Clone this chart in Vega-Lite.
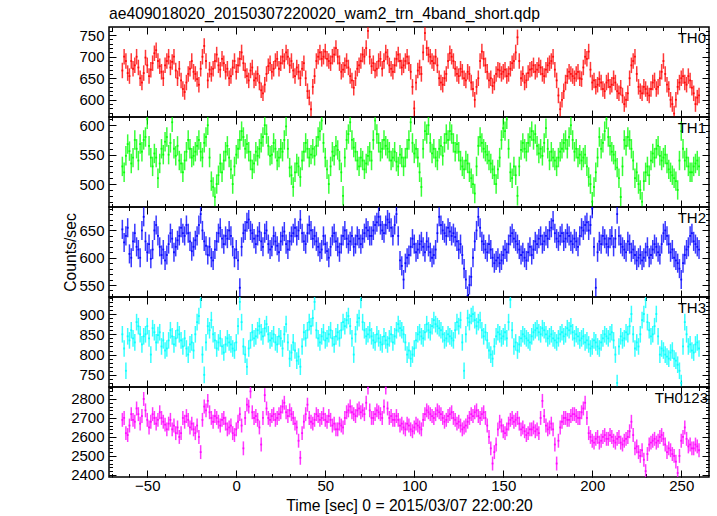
{
"$schema":"https://vega.github.io/schema/vega-lite/v6.json",
"padding":{"left":62,"top":5,"right":5,"bottom":5},
"title":{"text":"ae409018020_20150307220020_wam2_trn_4band_short.qdp","anchor":"start","frame":"group","fontSize":15.7,"fontWeight":"normal","font":"Liberation Sans","color":"black","offset":3},
"datasets":{
"err":[{"k":"a","err":18},{"k":"b","err":16.5},{"k":"c","err":17.5},{"k":"d","err":20.5},{"k":"s","err":36.6}],
"lc":[
{"t":-64,"a":668,"b":530,"c":652,"d":850,"s":2690},
{"t":-62,"a":690,"b":548,"c":640,"d":760,"s":2620},
{"t":-60,"a":655,"b":556,"c":607,"d":835,"s":2660},
{"t":-58,"a":672,"b":545,"c":630,"d":840,"s":2690},
{"t":-56,"a":700,"b":560,"c":620,"d":880,"s":2750},
{"t":-54,"a":650,"b":568,"c":600,"d":850,"s":2670},
{"t":-52,"a":662,"b":575,"c":675,"d":845,"s":2800},
{"t":-50,"a":680,"b":610,"c":610,"d":870,"s":2690},
{"t":-48,"a":670,"b":545,"c":598,"d":800,"s":2680},
{"t":-46,"a":708,"b":552,"c":650,"d":855,"s":2700},
{"t":-44,"a":690,"b":510,"c":640,"d":848,"s":2690},
{"t":-42,"a":665,"b":560,"c":605,"d":820,"s":2700},
{"t":-40,"a":680,"b":572,"c":595,"d":810,"s":2665},
{"t":-38,"a":700,"b":550,"c":625,"d":835,"s":2670},
{"t":-36,"a":688,"b":605,"c":635,"d":845,"s":2640},
{"t":-34,"a":668,"b":548,"c":620,"d":840,"s":2620},
{"t":-32,"a":672,"b":540,"c":640,"d":850,"s":2600},
{"t":-30,"a":625,"b":520,"c":645,"d":820,"s":2700},
{"t":-28,"a":640,"b":555,"c":660,"d":815,"s":2710},
{"t":-26,"a":672,"b":560,"c":630,"d":825,"s":2650},
{"t":-24,"a":665,"b":548,"c":620,"d":810,"s":2640},
{"t":-22,"a":648,"b":565,"c":640,"d":880,"s":2660},
{"t":-20,"a":672,"b":555,"c":680,"d":935,"s":2520},
{"t":-18,"a":725,"b":570,"c":630,"d":750,"s":2760},
{"t":-16,"a":645,"b":600,"c":605,"d":870,"s":2790},
{"t":-14,"a":660,"b":505,"c":600,"d":885,"s":2700},
{"t":-12,"a":690,"b":478,"c":615,"d":835,"s":2710},
{"t":-10,"a":680,"b":515,"c":645,"d":830,"s":2680},
{"t":-8,"a":695,"b":520,"c":635,"d":820,"s":2690},
{"t":-6,"a":665,"b":555,"c":640,"d":825,"s":2670},
{"t":-4,"a":650,"b":545,"c":650,"d":830,"s":2650},
{"t":-2,"a":675,"b":500,"c":620,"d":815,"s":2620},
{"t":0,"a":665,"b":550,"c":615,"d":830,"s":2640},
{"t":2,"a":695,"b":575,"c":545,"d":930,"s":2720},
{"t":4,"a":685,"b":580,"c":645,"d":820,"s":2540},
{"t":6,"a":655,"b":568,"c":665,"d":770,"s":2770},
{"t":8,"a":668,"b":540,"c":650,"d":835,"s":2840},
{"t":10,"a":645,"b":535,"c":635,"d":840,"s":2700},
{"t":12,"a":660,"b":548,"c":640,"d":860,"s":2690},
{"t":14,"a":622,"b":570,"c":630,"d":855,"s":2560},
{"t":16,"a":635,"b":600,"c":645,"d":865,"s":2820},
{"t":18,"a":678,"b":565,"c":625,"d":850,"s":2700},
{"t":20,"a":665,"b":550,"c":620,"d":840,"s":2710},
{"t":22,"a":690,"b":560,"c":630,"d":830,"s":2690},
{"t":24,"a":672,"b":545,"c":610,"d":845,"s":2720},
{"t":26,"a":700,"b":555,"c":640,"d":815,"s":2760},
{"t":28,"a":710,"b":598,"c":625,"d":875,"s":2730},
{"t":30,"a":680,"b":528,"c":630,"d":790,"s":2740},
{"t":32,"a":668,"b":495,"c":645,"d":830,"s":2700},
{"t":34,"a":675,"b":535,"c":640,"d":785,"s":2650},
{"t":36,"a":650,"b":512,"c":670,"d":770,"s":2490},
{"t":38,"a":685,"b":555,"c":630,"d":855,"s":2680},
{"t":40,"a":620,"b":560,"c":645,"d":860,"s":2770},
{"t":42,"a":578,"b":550,"c":650,"d":870,"s":2680},
{"t":44,"a":655,"b":548,"c":640,"d":930,"s":2690},
{"t":46,"a":700,"b":580,"c":620,"d":840,"s":2710},
{"t":48,"a":695,"b":608,"c":615,"d":845,"s":2700},
{"t":50,"a":712,"b":545,"c":625,"d":835,"s":2690},
{"t":52,"a":690,"b":500,"c":600,"d":850,"s":2710},
{"t":54,"a":700,"b":555,"c":640,"d":840,"s":2660},
{"t":56,"a":720,"b":565,"c":630,"d":845,"s":2640},
{"t":58,"a":685,"b":540,"c":610,"d":840,"s":2670},
{"t":60,"a":670,"b":480,"c":640,"d":880,"s":2650},
{"t":62,"a":690,"b":575,"c":635,"d":885,"s":2730},
{"t":64,"a":655,"b":605,"c":630,"d":870,"s":2760},
{"t":66,"a":628,"b":562,"c":620,"d":800,"s":2720},
{"t":68,"a":672,"b":540,"c":640,"d":880,"s":2740},
{"t":70,"a":690,"b":545,"c":625,"d":935,"s":2730},
{"t":72,"a":700,"b":525,"c":645,"d":860,"s":2720},
{"t":74,"a":760,"b":548,"c":650,"d":850,"s":2860},
{"t":76,"a":678,"b":540,"c":640,"d":845,"s":2700},
{"t":78,"a":668,"b":608,"c":660,"d":830,"s":2720},
{"t":80,"a":690,"b":570,"c":675,"d":840,"s":2730},
{"t":82,"a":672,"b":560,"c":650,"d":825,"s":2700},
{"t":84,"a":710,"b":565,"c":660,"d":835,"s":2860},
{"t":86,"a":680,"b":555,"c":665,"d":840,"s":2700},
{"t":88,"a":665,"b":545,"c":640,"d":830,"s":2690},
{"t":90,"a":695,"b":538,"c":680,"d":860,"s":2710},
{"t":92,"a":690,"b":550,"c":595,"d":865,"s":2660},
{"t":94,"a":680,"b":530,"c":560,"d":850,"s":2650},
{"t":96,"a":700,"b":560,"c":600,"d":800,"s":2670},
{"t":98,"a":665,"b":605,"c":620,"d":790,"s":2640},
{"t":100,"a":580,"b":552,"c":625,"d":815,"s":2650},
{"t":102,"a":668,"b":545,"c":615,"d":850,"s":2660},
{"t":104,"a":660,"b":495,"c":630,"d":845,"s":2640},
{"t":106,"a":755,"b":590,"c":610,"d":855,"s":2720},
{"t":108,"a":705,"b":600,"c":620,"d":860,"s":2730},
{"t":110,"a":690,"b":552,"c":600,"d":870,"s":2710},
{"t":112,"a":700,"b":545,"c":615,"d":875,"s":2720},
{"t":114,"a":650,"b":560,"c":675,"d":865,"s":2730},
{"t":116,"a":635,"b":548,"c":650,"d":850,"s":2700},
{"t":118,"a":660,"b":585,"c":640,"d":840,"s":2690},
{"t":120,"a":708,"b":590,"c":648,"d":845,"s":2720},
{"t":122,"a":690,"b":570,"c":645,"d":835,"s":2700},
{"t":124,"a":660,"b":568,"c":630,"d":880,"s":2670},
{"t":126,"a":672,"b":540,"c":625,"d":885,"s":2660},
{"t":128,"a":650,"b":525,"c":580,"d":760,"s":2650},
{"t":130,"a":665,"b":535,"c":530,"d":890,"s":2680},
{"t":132,"a":640,"b":510,"c":565,"d":895,"s":2720},
{"t":134,"a":600,"b":484,"c":630,"d":885,"s":2730},
{"t":136,"a":650,"b":565,"c":675,"d":880,"s":2710},
{"t":138,"a":712,"b":570,"c":630,"d":860,"s":2720},
{"t":140,"a":680,"b":555,"c":615,"d":855,"s":2700},
{"t":142,"a":645,"b":540,"c":625,"d":810,"s":2600},
{"t":144,"a":632,"b":525,"c":600,"d":790,"s":2460},
{"t":146,"a":660,"b":500,"c":595,"d":845,"s":2560},
{"t":148,"a":668,"b":545,"c":590,"d":850,"s":2680},
{"t":150,"a":665,"b":595,"c":605,"d":845,"s":2630},
{"t":152,"a":655,"b":610,"c":610,"d":840,"s":2640},
{"t":154,"a":672,"b":520,"c":640,"d":935,"s":2690},
{"t":156,"a":690,"b":530,"c":635,"d":820,"s":2680},
{"t":158,"a":745,"b":480,"c":625,"d":810,"s":2700},
{"t":160,"a":650,"b":558,"c":605,"d":840,"s":2640},
{"t":162,"a":640,"b":560,"c":600,"d":845,"s":2630},
{"t":164,"a":662,"b":570,"c":610,"d":835,"s":2620},
{"t":166,"a":672,"b":590,"c":605,"d":845,"s":2640},
{"t":168,"a":665,"b":585,"c":630,"d":860,"s":2630},
{"t":170,"a":680,"b":552,"c":635,"d":855,"s":2620},
{"t":172,"a":660,"b":548,"c":625,"d":865,"s":2790},
{"t":174,"a":670,"b":595,"c":640,"d":850,"s":2660},
{"t":176,"a":685,"b":540,"c":650,"d":845,"s":2650},
{"t":178,"a":700,"b":545,"c":668,"d":840,"s":2640},
{"t":180,"a":645,"b":530,"c":635,"d":830,"s":2460},
{"t":182,"a":578,"b":555,"c":640,"d":850,"s":2650},
{"t":184,"a":620,"b":570,"c":630,"d":845,"s":2700},
{"t":186,"a":655,"b":560,"c":645,"d":865,"s":2690},
{"t":188,"a":660,"b":600,"c":630,"d":870,"s":2710},
{"t":190,"a":650,"b":555,"c":635,"d":840,"s":2720},
{"t":192,"a":665,"b":545,"c":620,"d":845,"s":2700},
{"t":194,"a":648,"b":540,"c":655,"d":840,"s":2730},
{"t":196,"a":700,"b":550,"c":660,"d":830,"s":2780},
{"t":198,"a":712,"b":512,"c":650,"d":825,"s":2620},
{"t":200,"a":640,"b":470,"c":690,"d":820,"s":2580},
{"t":202,"a":630,"b":520,"c":545,"d":830,"s":2590},
{"t":204,"a":648,"b":580,"c":630,"d":815,"s":2570},
{"t":206,"a":625,"b":570,"c":640,"d":840,"s":2600},
{"t":208,"a":640,"b":610,"c":625,"d":845,"s":2590},
{"t":210,"a":630,"b":565,"c":635,"d":850,"s":2610},
{"t":212,"a":650,"b":550,"c":620,"d":835,"s":2580},
{"t":214,"a":620,"b":528,"c":680,"d":730,"s":2590},
{"t":216,"a":628,"b":478,"c":625,"d":845,"s":2570},
{"t":218,"a":590,"b":575,"c":615,"d":840,"s":2580},
{"t":220,"a":615,"b":580,"c":630,"d":850,"s":2600},
{"t":222,"a":680,"b":560,"c":610,"d":900,"s":2680},
{"t":224,"a":700,"b":510,"c":605,"d":815,"s":2540},
{"t":226,"a":630,"b":500,"c":600,"d":820,"s":2520},
{"t":228,"a":615,"b":470,"c":595,"d":885,"s":2530},
{"t":230,"a":625,"b":520,"c":610,"d":935,"s":2420},
{"t":232,"a":610,"b":515,"c":600,"d":860,"s":2560},
{"t":234,"a":640,"b":552,"c":615,"d":850,"s":2580},
{"t":236,"a":625,"b":560,"c":620,"d":900,"s":2570},
{"t":238,"a":650,"b":548,"c":605,"d":800,"s":2600},
{"t":240,"a":690,"b":545,"c":645,"d":810,"s":2590},
{"t":242,"a":635,"b":535,"c":640,"d":795,"s":2520},
{"t":244,"a":600,"b":520,"c":610,"d":805,"s":2530},
{"t":246,"a":568,"b":510,"c":600,"d":790,"s":2500},
{"t":248,"a":630,"b":490,"c":590,"d":775,"s":2410},
{"t":250,"a":650,"b":590,"c":560,"d":730,"s":2580},
{"t":252,"a":640,"b":540,"c":605,"d":880,"s":2650},
{"t":254,"a":655,"b":530,"c":620,"d":820,"s":2550},
{"t":256,"a":628,"b":520,"c":645,"d":810,"s":2540},
{"t":258,"a":590,"b":535,"c":625,"d":825,"s":2560},
{"t":260,"a":610,"b":530,"c":615,"d":815,"s":2530},
{"t":-63,"a":700,"b":520,"c":628,"d":815,"s":2700},
{"t":-61,"a":662,"b":568,"c":655,"d":845,"s":2610},
{"t":-59,"a":690,"b":535,"c":600,"d":860,"s":2720},
{"t":-57,"a":680,"b":575,"c":645,"d":830,"s":2680},
{"t":-55,"a":675,"b":540,"c":615,"d":870,"s":2720},
{"t":-53,"a":640,"b":555,"c":650,"d":825,"s":2710},
{"t":-51,"a":698,"b":580,"c":630,"d":850,"s":2740},
{"t":-49,"a":655,"b":565,"c":625,"d":840,"s":2650},
{"t":-47,"a":685,"b":530,"c":615,"d":865,"s":2720},
{"t":-45,"a":715,"b":545,"c":660,"d":830,"s":2670},
{"t":-43,"a":678,"b":535,"c":620,"d":855,"s":2730},
{"t":-41,"a":650,"b":550,"c":615,"d":835,"s":2680},
{"t":-39,"a":690,"b":580,"c":605,"d":815,"s":2640},
{"t":-37,"a":675,"b":570,"c":645,"d":860,"s":2690},
{"t":-35,"a":700,"b":560,"c":610,"d":825,"s":2660},
{"t":-33,"a":650,"b":565,"c":632,"d":860,"s":2650},
{"t":-31,"a":645,"b":535,"c":655,"d":835,"s":2620},
{"t":-29,"a":618,"b":540,"c":640,"d":840,"s":2680},
{"t":-27,"a":660,"b":575,"c":645,"d":800,"s":2690},
{"t":-25,"a":690,"b":545,"c":612,"d":830,"s":2670},
{"t":-23,"a":660,"b":555,"c":632,"d":850,"s":2620},
{"t":-21,"a":635,"b":575,"c":660,"d":895,"s":2600},
{"t":-19,"a":700,"b":545,"c":650,"d":800,"s":2690},
{"t":-17,"a":690,"b":580,"c":622,"d":830,"s":2740},
{"t":-15,"a":670,"b":545,"c":620,"d":860,"s":2730},
{"t":-13,"a":672,"b":495,"c":595,"d":850,"s":2680},
{"t":-11,"a":705,"b":500,"c":630,"d":815,"s":2700},
{"t":-9,"a":670,"b":535,"c":655,"d":840,"s":2660},
{"t":-7,"a":685,"b":540,"c":625,"d":805,"s":2700},
{"t":-5,"a":672,"b":565,"c":635,"d":840,"s":2640},
{"t":-3,"a":655,"b":525,"c":640,"d":825,"s":2660},
{"t":-1,"a":690,"b":530,"c":600,"d":810,"s":2610},
{"t":1,"a":680,"b":560,"c":595,"d":870,"s":2680},
{"t":3,"a":710,"b":590,"c":620,"d":880,"s":2660},
{"t":5,"a":668,"b":560,"c":650,"d":800,"s":2700},
{"t":7,"a":645,"b":555,"c":670,"d":815,"s":2760},
{"t":9,"a":675,"b":525,"c":645,"d":855,"s":2730},
{"t":11,"a":650,"b":555,"c":625,"d":845,"s":2710},
{"t":13,"a":640,"b":560,"c":648,"d":870,"s":2650},
{"t":15,"a":615,"b":580,"c":620,"d":845,"s":2700},
{"t":17,"a":660,"b":585,"c":650,"d":875,"s":2750},
{"t":19,"a":685,"b":548,"c":615,"d":835,"s":2690},
{"t":21,"a":672,"b":570,"c":640,"d":850,"s":2720},
{"t":23,"a":695,"b":540,"c":622,"d":825,"s":2700},
{"t":25,"a":685,"b":560,"c":630,"d":840,"s":2730},
{"t":27,"a":690,"b":575,"c":648,"d":850,"s":2780},
{"t":29,"a":700,"b":560,"c":615,"d":830,"s":2710},
{"t":31,"a":690,"b":515,"c":640,"d":805,"s":2720},
{"t":33,"a":655,"b":520,"c":655,"d":810,"s":2670},
{"t":35,"a":665,"b":530,"c":650,"d":795,"s":2580},
{"t":37,"a":672,"b":540,"c":645,"d":820,"s":2620},
{"t":39,"a":650,"b":570,"c":625,"d":840,"s":2720},
{"t":41,"a":605,"b":545,"c":660,"d":880,"s":2700},
{"t":43,"a":630,"b":560,"c":635,"d":890,"s":2670},
{"t":45,"a":690,"b":565,"c":630,"d":860,"s":2720},
{"t":47,"a":710,"b":590,"c":610,"d":830,"s":2690},
{"t":49,"a":700,"b":570,"c":640,"d":855,"s":2720},
{"t":51,"a":695,"b":525,"c":612,"d":840,"s":2680},
{"t":53,"a":685,"b":530,"c":620,"d":860,"s":2690},
{"t":55,"a":705,"b":548,"c":645,"d":825,"s":2670},
{"t":57,"a":700,"b":558,"c":620,"d":855,"s":2640},
{"t":59,"a":665,"b":520,"c":625,"d":860,"s":2660},
{"t":61,"a":680,"b":545,"c":650,"d":870,"s":2700},
{"t":63,"a":675,"b":585,"c":625,"d":895,"s":2740},
{"t":65,"a":645,"b":575,"c":640,"d":840,"s":2730},
{"t":67,"a":650,"b":555,"c":625,"d":850,"s":2710},
{"t":69,"a":680,"b":530,"c":635,"d":890,"s":2750},
{"t":71,"a":705,"b":540,"c":635,"d":880,"s":2740},
{"t":73,"a":720,"b":535,"c":655,"d":845,"s":2780},
{"t":75,"a":700,"b":555,"c":640,"d":860,"s":2740},
{"t":77,"a":685,"b":575,"c":650,"d":835,"s":2700},
{"t":79,"a":672,"b":585,"c":665,"d":850,"s":2740},
{"t":81,"a":695,"b":555,"c":660,"d":830,"s":2720},
{"t":83,"a":690,"b":575,"c":645,"d":845,"s":2760},
{"t":85,"a":700,"b":560,"c":670,"d":825,"s":2750},
{"t":87,"a":672,"b":540,"c":655,"d":850,"s":2710},
{"t":89,"a":680,"b":555,"c":660,"d":845,"s":2690},
{"t":91,"a":705,"b":530,"c":640,"d":875,"s":2690},
{"t":93,"a":675,"b":545,"c":585,"d":860,"s":2670},
{"t":95,"a":690,"b":545,"c":590,"d":830,"s":2640},
{"t":97,"a":685,"b":575,"c":605,"d":810,"s":2660},
{"t":99,"a":630,"b":570,"c":635,"d":800,"s":2630},
{"t":101,"a":640,"b":560,"c":610,"d":835,"s":2670},
{"t":103,"a":675,"b":520,"c":625,"d":855,"s":2650},
{"t":105,"a":710,"b":560,"c":620,"d":840,"s":2690},
{"t":107,"a":720,"b":585,"c":630,"d":875,"s":2740},
{"t":109,"a":700,"b":570,"c":610,"d":855,"s":2720},
{"t":111,"a":685,"b":560,"c":605,"d":885,"s":2700},
{"t":113,"a":680,"b":540,"c":645,"d":870,"s":2740},
{"t":115,"a":640,"b":565,"c":660,"d":860,"s":2720},
{"t":117,"a":650,"b":570,"c":645,"d":835,"s":2680},
{"t":119,"a":690,"b":575,"c":655,"d":850,"s":2710},
{"t":121,"a":700,"b":585,"c":640,"d":840,"s":2730},
{"t":123,"a":672,"b":555,"c":638,"d":860,"s":2690},
{"t":125,"a":655,"b":555,"c":615,"d":870,"s":2680},
{"t":127,"a":665,"b":530,"c":605,"d":830,"s":2640},
{"t":129,"a":645,"b":540,"c":560,"d":850,"s":2660},
{"t":131,"a":660,"b":520,"c":550,"d":880,"s":2700},
{"t":133,"a":625,"b":500,"c":600,"d":900,"s":2710},
{"t":135,"a":630,"b":530,"c":650,"d":870,"s":2740},
{"t":137,"a":690,"b":580,"c":655,"d":885,"s":2700},
{"t":139,"a":695,"b":560,"c":625,"d":845,"s":2730},
{"t":141,"a":665,"b":550,"c":610,"d":835,"s":2660},
{"t":143,"a":650,"b":535,"c":615,"d":800,"s":2540},
{"t":145,"a":640,"b":515,"c":590,"d":820,"s":2520},
{"t":147,"a":670,"b":525,"c":600,"d":855,"s":2640},
{"t":149,"a":660,"b":575,"c":595,"d":840,"s":2660},
{"t":151,"a":670,"b":590,"c":615,"d":855,"s":2620},
{"t":153,"a":660,"b":560,"c":625,"d":880,"s":2670},
{"t":155,"a":685,"b":510,"c":645,"d":860,"s":2700},
{"t":157,"a":710,"b":515,"c":630,"d":830,"s":2690},
{"t":159,"a":690,"b":530,"c":615,"d":825,"s":2670},
{"t":161,"a":660,"b":570,"c":610,"d":850,"s":2650},
{"t":163,"a":645,"b":555,"c":595,"d":840,"s":2610},
{"t":165,"a":670,"b":580,"c":620,"d":830,"s":2640},
{"t":167,"a":680,"b":575,"c":615,"d":855,"s":2650},
{"t":169,"a":670,"b":565,"c":625,"d":865,"s":2640},
{"t":171,"a":675,"b":560,"c":640,"d":850,"s":2700},
{"t":173,"a":655,"b":570,"c":630,"d":860,"s":2710},
{"t":175,"a":680,"b":560,"c":635,"d":840,"s":2640},
{"t":177,"a":690,"b":555,"c":655,"d":850,"s":2670},
{"t":179,"a":670,"b":540,"c":645,"d":835,"s":2560},
{"t":181,"a":610,"b":545,"c":630,"d":840,"s":2580},
{"t":183,"a":600,"b":560,"c":645,"d":855,"s":2680},
{"t":185,"a":640,"b":575,"c":635,"d":850,"s":2700},
{"t":187,"a":665,"b":580,"c":640,"d":860,"s":2690},
{"t":189,"a":655,"b":575,"c":625,"d":855,"s":2720},
{"t":191,"a":660,"b":560,"c":630,"d":850,"s":2710},
{"t":193,"a":650,"b":550,"c":640,"d":835,"s":2700},
{"t":195,"a":675,"b":545,"c":650,"d":845,"s":2750},
{"t":197,"a":695,"b":530,"c":665,"d":835,"s":2700},
{"t":199,"a":670,"b":500,"c":660,"d":815,"s":2600},
{"t":201,"a":645,"b":495,"c":620,"d":835,"s":2570},
{"t":203,"a":635,"b":545,"c":610,"d":820,"s":2600},
{"t":205,"a":640,"b":560,"c":625,"d":830,"s":2580},
{"t":207,"a":620,"b":590,"c":635,"d":850,"s":2610},
{"t":209,"a":645,"b":580,"c":620,"d":840,"s":2590},
{"t":211,"a":635,"b":555,"c":640,"d":855,"s":2600},
{"t":213,"a":640,"b":540,"c":635,"d":800,"s":2570},
{"t":215,"a":615,"b":510,"c":640,"d":820,"s":2600},
{"t":217,"a":610,"b":530,"c":620,"d":835,"s":2560},
{"t":219,"a":600,"b":565,"c":610,"d":855,"s":2590},
{"t":221,"a":650,"b":575,"c":625,"d":870,"s":2630},
{"t":223,"a":690,"b":540,"c":615,"d":850,"s":2610},
{"t":225,"a":660,"b":520,"c":595,"d":830,"s":2550},
{"t":227,"a":620,"b":490,"c":605,"d":850,"s":2500},
{"t":229,"a":630,"b":505,"c":600,"d":900,"s":2480},
{"t":231,"a":615,"b":530,"c":620,"d":880,"s":2510},
{"t":233,"a":625,"b":540,"c":605,"d":845,"s":2570},
{"t":235,"a":645,"b":545,"c":625,"d":870,"s":2590},
{"t":237,"a":630,"b":565,"c":610,"d":845,"s":2580},
{"t":239,"a":665,"b":540,"c":625,"d":815,"s":2610},
{"t":241,"a":660,"b":550,"c":650,"d":800,"s":2560},
{"t":243,"a":625,"b":525,"c":625,"d":790,"s":2540},
{"t":245,"a":590,"b":515,"c":615,"d":810,"s":2510},
{"t":247,"a":600,"b":505,"c":595,"d":785,"s":2470},
{"t":249,"a":640,"b":540,"c":580,"d":760,"s":2500},
{"t":251,"a":655,"b":560,"c":590,"d":820,"s":2600},
{"t":253,"a":635,"b":545,"c":615,"d":850,"s":2590},
{"t":255,"a":645,"b":520,"c":640,"d":825,"s":2560},
{"t":257,"a":615,"b":530,"c":630,"d":805,"s":2540},
{"t":259,"a":605,"b":540,"c":620,"d":830,"s":2550}
]},
"data":{"name":"lc"},
"spacing":0,
"bounds":"flush",
"vconcat":[
{"width":600,"height":90,
"transform":[{"fold":["a"],"as":["k","v"]},{"lookup":"k","from":{"data":{"name":"err"},"key":"k","fields":["err"]}}],
"layer":[
{"mark":{"type":"errorbar","color":"#ff0000","thickness":1.5,"opacity":0.78},
"encoding":{"x":{"field":"t","type":"quantitative","scale":{"domain":[-71.5,265.6],"nice":false,"zero":false},"axis":{"orient":"bottom","values":[-50,0,50,100,150,200,250],"tickSize":-7,"labels":false,"title":null}},
"y":{"field":"v","type":"quantitative","scale":{"domain":[560,769],"nice":false,"zero":false,"clamp":true},"axis":{"orient":"left","values":[600,650,700,750],"tickSize":-7,"labels":false,"title":null,"minExtent":0}},
"yError":{"field":"err"}}},
{"mark":{"type":"tick","orient":"horizontal","size":1.9,"thickness":1.8,"color":"#ff0000","opacity":0.85},
"encoding":{"x":{"field":"t","type":"quantitative","axis":{"orient":"top","values":[-50,0,50,100,150,200,250],"tickSize":-7,"labels":false,"title":null}},
"y":{"field":"v","type":"quantitative","axis":{"orient":"right","values":[600,650,700,750],"tickSize":-7,"labels":false,"title":null,"minExtent":0}}}},
{"mark":{"type":"point","opacity":0},
"encoding":{"x":{"field":"t","type":"quantitative","axis":{"orient":"bottom","values":[-70,-60,-50,-40,-30,-20,-10,0,10,20,30,40,50,60,70,80,90,100,110,120,130,140,150,160,170,180,190,200,210,220,230,240,250,260],"tickSize":-3.5,"labels":false,"title":null}},
"y":{"field":"v","type":"quantitative","axis":{"orient":"left","values":[560,570,580,590,600,610,620,630,640,650,660,670,680,690,700,710,720,730,740,750,760],"tickSize":-3.5,"labels":false,"title":null,"minExtent":0}}}},
{"mark":{"type":"point","opacity":0},
"encoding":{"x":{"field":"t","type":"quantitative","axis":{"orient":"top","values":[-70,-60,-50,-40,-30,-20,-10,0,10,20,30,40,50,60,70,80,90,100,110,120,130,140,150,160,170,180,190,200,210,220,230,240,250,260],"tickSize":-3.5,"labels":false,"title":null}},
"y":{"field":"v","type":"quantitative","axis":{"orient":"right","values":[560,570,580,590,600,610,620,630,640,650,660,670,680,690,700,710,720,730,740,750,760],"tickSize":-3.5,"labels":false,"title":null,"minExtent":0}}}},
{"mark":{"type":"point","opacity":0},
"encoding":{"x":{"field":"t","type":"quantitative","axis":null},
"y":{"field":"v","type":"quantitative","axis":{"orient":"left","values":[600,650,700,750],"format":"d","ticks":false,"labelPadding":5,"labelOverlap":false,"title":null,"minExtent":0}}}},
{"data":{"values":[{"n":"TH0"}]},"mark":{"type":"text","align":"right","baseline":"top","dx":-3,"dy":4,"fontSize":15,"font":"Liberation Sans","color":"black"},
"encoding":{"x":{"datum":265.6,"type":"quantitative","axis":null},"y":{"datum":769,"type":"quantitative","axis":null},"text":{"field":"n"}}}
],
"resolve":{"axis":{"x":"independent","y":"independent"}}},

{"width":600,"height":90,
"transform":[{"fold":["b"],"as":["k","v"]},{"lookup":"k","from":{"data":{"name":"err"},"key":"k","fields":["err"]}}],
"layer":[
{"mark":{"type":"errorbar","color":"#00ff00","thickness":1.5,"opacity":0.78},
"encoding":{"x":{"field":"t","type":"quantitative","scale":{"domain":[-71.5,265.6],"nice":false,"zero":false},"axis":{"orient":"bottom","values":[-50,0,50,100,150,200,250],"tickSize":-7,"labels":false,"title":null}},
"y":{"field":"v","type":"quantitative","scale":{"domain":[461,614],"nice":false,"zero":false,"clamp":true},"axis":{"orient":"left","values":[500,550,600],"tickSize":-7,"labels":false,"title":null,"minExtent":0}},
"yError":{"field":"err"}}},
{"mark":{"type":"tick","orient":"horizontal","size":1.9,"thickness":1.8,"color":"#00ff00","opacity":0.85},
"encoding":{"x":{"field":"t","type":"quantitative","axis":{"orient":"top","values":[-50,0,50,100,150,200,250],"tickSize":-7,"labels":false,"title":null}},
"y":{"field":"v","type":"quantitative","axis":{"orient":"right","values":[500,550,600],"tickSize":-7,"labels":false,"title":null,"minExtent":0}}}},
{"mark":{"type":"point","opacity":0},
"encoding":{"x":{"field":"t","type":"quantitative","axis":{"orient":"bottom","values":[-70,-60,-50,-40,-30,-20,-10,0,10,20,30,40,50,60,70,80,90,100,110,120,130,140,150,160,170,180,190,200,210,220,230,240,250,260],"tickSize":-3.5,"labels":false,"title":null}},
"y":{"field":"v","type":"quantitative","axis":{"orient":"left","values":[470,480,490,500,510,520,530,540,550,560,570,580,590,600,610],"tickSize":-3.5,"labels":false,"title":null,"minExtent":0}}}},
{"mark":{"type":"point","opacity":0},
"encoding":{"x":{"field":"t","type":"quantitative","axis":{"orient":"top","values":[-70,-60,-50,-40,-30,-20,-10,0,10,20,30,40,50,60,70,80,90,100,110,120,130,140,150,160,170,180,190,200,210,220,230,240,250,260],"tickSize":-3.5,"labels":false,"title":null}},
"y":{"field":"v","type":"quantitative","axis":{"orient":"right","values":[470,480,490,500,510,520,530,540,550,560,570,580,590,600,610],"tickSize":-3.5,"labels":false,"title":null,"minExtent":0}}}},
{"mark":{"type":"point","opacity":0},
"encoding":{"x":{"field":"t","type":"quantitative","axis":null},
"y":{"field":"v","type":"quantitative","axis":{"orient":"left","values":[500,550,600],"format":"d","ticks":false,"labelPadding":5,"labelOverlap":false,"title":null,"minExtent":0}}}},
{"data":{"values":[{"n":"TH1"}]},"mark":{"type":"text","align":"right","baseline":"top","dx":-3,"dy":4,"fontSize":15,"font":"Liberation Sans","color":"black"},
"encoding":{"x":{"datum":265.6,"type":"quantitative","axis":null},"y":{"datum":614,"type":"quantitative","axis":null},"text":{"field":"n"}}}
],
"resolve":{"axis":{"x":"independent","y":"independent"}}},

{"width":600,"height":90,
"transform":[{"fold":["c"],"as":["k","v"]},{"lookup":"k","from":{"data":{"name":"err"},"key":"k","fields":["err"]}}],
"layer":[
{"mark":{"type":"errorbar","color":"#0000ff","thickness":1.5,"opacity":0.78},
"encoding":{"x":{"field":"t","type":"quantitative","scale":{"domain":[-71.5,265.6],"nice":false,"zero":false},"axis":{"orient":"bottom","values":[-50,0,50,100,150,200,250],"tickSize":-7,"labels":false,"title":null}},
"y":{"field":"v","type":"quantitative","scale":{"domain":[528,693],"nice":false,"zero":false,"clamp":true},"axis":{"orient":"left","values":[550,600,650],"tickSize":-7,"labels":false,"title":null,"minExtent":0}},
"yError":{"field":"err"}}},
{"mark":{"type":"tick","orient":"horizontal","size":1.9,"thickness":1.8,"color":"#0000ff","opacity":0.85},
"encoding":{"x":{"field":"t","type":"quantitative","axis":{"orient":"top","values":[-50,0,50,100,150,200,250],"tickSize":-7,"labels":false,"title":null}},
"y":{"field":"v","type":"quantitative","axis":{"orient":"right","values":[550,600,650],"tickSize":-7,"labels":false,"title":null,"minExtent":0}}}},
{"mark":{"type":"point","opacity":0},
"encoding":{"x":{"field":"t","type":"quantitative","axis":{"orient":"bottom","values":[-70,-60,-50,-40,-30,-20,-10,0,10,20,30,40,50,60,70,80,90,100,110,120,130,140,150,160,170,180,190,200,210,220,230,240,250,260],"tickSize":-3.5,"labels":false,"title":null}},
"y":{"field":"v","type":"quantitative","axis":{"orient":"left","values":[530,540,550,560,570,580,590,600,610,620,630,640,650,660,670,680,690],"tickSize":-3.5,"labels":false,"title":null,"minExtent":0}}}},
{"mark":{"type":"point","opacity":0},
"encoding":{"x":{"field":"t","type":"quantitative","axis":{"orient":"top","values":[-70,-60,-50,-40,-30,-20,-10,0,10,20,30,40,50,60,70,80,90,100,110,120,130,140,150,160,170,180,190,200,210,220,230,240,250,260],"tickSize":-3.5,"labels":false,"title":null}},
"y":{"field":"v","type":"quantitative","axis":{"orient":"right","values":[530,540,550,560,570,580,590,600,610,620,630,640,650,660,670,680,690],"tickSize":-3.5,"labels":false,"title":null,"minExtent":0}}}},
{"mark":{"type":"point","opacity":0},
"encoding":{"x":{"field":"t","type":"quantitative","axis":null},
"y":{"field":"v","type":"quantitative","axis":{"orient":"left","values":[550,600,650],"format":"d","ticks":false,"labelPadding":5,"labelOverlap":false,"title":"Counts/sec","titlePadding":0,"minExtent":0}}}},
{"data":{"values":[{"n":"TH2"}]},"mark":{"type":"text","align":"right","baseline":"top","dx":-3,"dy":4,"fontSize":15,"font":"Liberation Sans","color":"black"},
"encoding":{"x":{"datum":265.6,"type":"quantitative","axis":null},"y":{"datum":693,"type":"quantitative","axis":null},"text":{"field":"n"}}}
],
"resolve":{"axis":{"x":"independent","y":"independent"}}},

{"width":600,"height":90,
"transform":[{"fold":["d"],"as":["k","v"]},{"lookup":"k","from":{"data":{"name":"err"},"key":"k","fields":["err"]}}],
"layer":[
{"mark":{"type":"errorbar","color":"#00ffff","thickness":1.5,"opacity":0.78},
"encoding":{"x":{"field":"t","type":"quantitative","scale":{"domain":[-71.5,265.6],"nice":false,"zero":false},"axis":{"orient":"bottom","values":[-50,0,50,100,150,200,250],"tickSize":-7,"labels":false,"title":null}},
"y":{"field":"v","type":"quantitative","scale":{"domain":[720,942],"nice":false,"zero":false,"clamp":true},"axis":{"orient":"left","values":[750,800,850,900],"tickSize":-7,"labels":false,"title":null,"minExtent":0}},
"yError":{"field":"err"}}},
{"mark":{"type":"tick","orient":"horizontal","size":1.9,"thickness":1.8,"color":"#00ffff","opacity":0.85},
"encoding":{"x":{"field":"t","type":"quantitative","axis":{"orient":"top","values":[-50,0,50,100,150,200,250],"tickSize":-7,"labels":false,"title":null}},
"y":{"field":"v","type":"quantitative","axis":{"orient":"right","values":[750,800,850,900],"tickSize":-7,"labels":false,"title":null,"minExtent":0}}}},
{"mark":{"type":"point","opacity":0},
"encoding":{"x":{"field":"t","type":"quantitative","axis":{"orient":"bottom","values":[-70,-60,-50,-40,-30,-20,-10,0,10,20,30,40,50,60,70,80,90,100,110,120,130,140,150,160,170,180,190,200,210,220,230,240,250,260],"tickSize":-3.5,"labels":false,"title":null}},
"y":{"field":"v","type":"quantitative","axis":{"orient":"left","values":[720,730,740,750,760,770,780,790,800,810,820,830,840,850,860,870,880,890,900,910,920,930,940],"tickSize":-3.5,"labels":false,"title":null,"minExtent":0}}}},
{"mark":{"type":"point","opacity":0},
"encoding":{"x":{"field":"t","type":"quantitative","axis":{"orient":"top","values":[-70,-60,-50,-40,-30,-20,-10,0,10,20,30,40,50,60,70,80,90,100,110,120,130,140,150,160,170,180,190,200,210,220,230,240,250,260],"tickSize":-3.5,"labels":false,"title":null}},
"y":{"field":"v","type":"quantitative","axis":{"orient":"right","values":[720,730,740,750,760,770,780,790,800,810,820,830,840,850,860,870,880,890,900,910,920,930,940],"tickSize":-3.5,"labels":false,"title":null,"minExtent":0}}}},
{"mark":{"type":"point","opacity":0},
"encoding":{"x":{"field":"t","type":"quantitative","axis":null},
"y":{"field":"v","type":"quantitative","axis":{"orient":"left","values":[750,800,850,900],"format":"d","ticks":false,"labelPadding":5,"labelOverlap":false,"title":null,"minExtent":0}}}},
{"data":{"values":[{"n":"TH3"}]},"mark":{"type":"text","align":"right","baseline":"top","dx":-3,"dy":4,"fontSize":15,"font":"Liberation Sans","color":"black"},
"encoding":{"x":{"datum":265.6,"type":"quantitative","axis":null},"y":{"datum":942,"type":"quantitative","axis":null},"text":{"field":"n"}}}
],
"resolve":{"axis":{"x":"independent","y":"independent"}}},

{"width":600,"height":90,
"transform":[{"fold":["s"],"as":["k","v"]},{"lookup":"k","from":{"data":{"name":"err"},"key":"k","fields":["err"]}}],
"layer":[
{"mark":{"type":"errorbar","color":"#ff00ff","thickness":1.5,"opacity":0.78},
"encoding":{"x":{"field":"t","type":"quantitative","scale":{"domain":[-71.5,265.6],"nice":false,"zero":false},"axis":{"orient":"bottom","values":[-50,0,50,100,150,200,250],"tickSize":-7,"labels":false,"title":null}},
"y":{"field":"v","type":"quantitative","scale":{"domain":[2389,2863],"nice":false,"zero":false,"clamp":true},"axis":{"orient":"left","values":[2400,2500,2600,2700,2800],"tickSize":-7,"labels":false,"title":null,"minExtent":0}},
"yError":{"field":"err"}}},
{"mark":{"type":"tick","orient":"horizontal","size":1.9,"thickness":1.8,"color":"#ff00ff","opacity":0.85},
"encoding":{"x":{"field":"t","type":"quantitative","axis":{"orient":"top","values":[-50,0,50,100,150,200,250],"tickSize":-7,"labels":false,"title":null}},
"y":{"field":"v","type":"quantitative","axis":{"orient":"right","values":[2400,2500,2600,2700,2800],"tickSize":-7,"labels":false,"title":null,"minExtent":0}}}},
{"mark":{"type":"point","opacity":0},
"encoding":{"x":{"field":"t","type":"quantitative","axis":{"orient":"bottom","values":[-70,-60,-50,-40,-30,-20,-10,0,10,20,30,40,50,60,70,80,90,100,110,120,130,140,150,160,170,180,190,200,210,220,230,240,250,260],"tickSize":-3.5,"labels":false,"title":null}},
"y":{"field":"v","type":"quantitative","axis":{"orient":"left","values":[2400,2420,2440,2460,2480,2500,2520,2540,2560,2580,2600,2620,2640,2660,2680,2700,2720,2740,2760,2780,2800,2820,2840,2860],"tickSize":-3.5,"labels":false,"title":null,"minExtent":0}}}},
{"mark":{"type":"point","opacity":0},
"encoding":{"x":{"field":"t","type":"quantitative","axis":{"orient":"top","values":[-70,-60,-50,-40,-30,-20,-10,0,10,20,30,40,50,60,70,80,90,100,110,120,130,140,150,160,170,180,190,200,210,220,230,240,250,260],"tickSize":-3.5,"labels":false,"title":null}},
"y":{"field":"v","type":"quantitative","axis":{"orient":"right","values":[2400,2420,2440,2460,2480,2500,2520,2540,2560,2580,2600,2620,2640,2660,2680,2700,2720,2740,2760,2780,2800,2820,2840,2860],"tickSize":-3.5,"labels":false,"title":null,"minExtent":0}}}},
{"mark":{"type":"point","opacity":0},
"encoding":{"x":{"field":"t","type":"quantitative","axis":{"orient":"bottom","values":[-50,0,50,100,150,200,250],"ticks":false,"labelPadding":1,"labelOverlap":false,"labelFlush":false,"title":"Time [sec] 0 = 2015/03/07 22:00:20","titlePadding":5}},
"y":{"field":"v","type":"quantitative","axis":{"orient":"left","values":[2400,2500,2600,2700,2800],"format":"d","ticks":false,"labelPadding":5,"labelOverlap":false,"title":null,"minExtent":0}}}},
{"data":{"values":[{"n":"TH0123"}]},"mark":{"type":"text","align":"right","baseline":"top","dx":-1,"dy":4,"fontSize":15,"font":"Liberation Sans","color":"black"},
"encoding":{"x":{"datum":265.6,"type":"quantitative","axis":null},"y":{"datum":2863,"type":"quantitative","axis":null},"text":{"field":"n"}}}
],
"resolve":{"axis":{"x":"independent","y":"independent"}}}
],
"config":{
"view":{"stroke":"black","strokeWidth":1.5},
"font":"Liberation Sans",
"axis":{"domain":false,"grid":false,"tickColor":"black","tickWidth":1,"labelFont":"Liberation Sans","labelFontSize":15,"labelColor":"black","titleFont":"Liberation Sans","titleFontSize":15.7,"titleFontWeight":"normal","titleColor":"black"}
}
}
